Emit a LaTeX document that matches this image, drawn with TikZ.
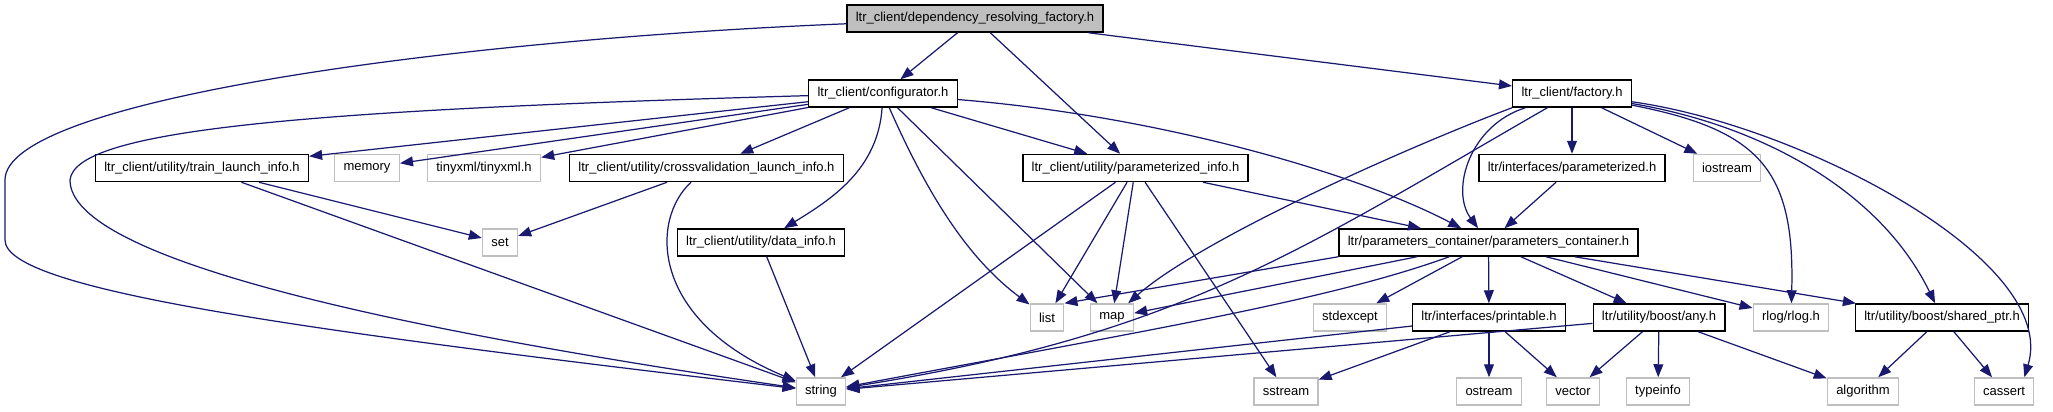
\documentclass[tikz,border=0pt]{standalone}
\usepackage{fontspec}
\setmainfont{Liberation Sans}
\usetikzlibrary{arrows.meta}
\definecolor{edgeblue}{HTML}{191970}
\definecolor{boxgray}{HTML}{BFBFBF}

\begin{document}
\begin{tikzpicture}[x=0.01cm,y=-0.01cm,font=\fontsize{3.7}{4.4}\selectfont,
  hfile/.style={draw=black,line width=0.4pt,fill=white,inner xsep=2.5pt,inner ysep=0pt,minimum height=7.7pt},
  sysfile/.style={hfile,draw=boxgray},
  topfile/.style={hfile,fill=boxgray},
  incl/.style={edgeblue,line width=0.35pt,-{Triangle[length=3.7pt,width=2.8pt]}}]
\useasboundingbox (0,0) rectangle (2053,411);
% files
\node[topfile] (drf) at (975,18.5) {ltr\_client/dependency\_resolving\_factory.h};
\node[hfile] (conf) at (883,93.5) {ltr\_client/configurator.h};
\node[hfile] (fact) at (1572,93.5) {ltr\_client/factory.h};
\node[hfile] (train) at (202,168) {ltr\_client/utility/train\_launch\_info.h};
\node[sysfile] (memory) at (367,168) {memory};
\node[sysfile] (tinyxml) at (484,168) {tinyxml/tinyxml.h};
\node[hfile] (cvinfo) at (706.5,168) {ltr\_client/utility/crossvalidation\_launch\_info.h};
\node[hfile] (pinfo) at (1135.5,168) {ltr\_client/utility/parameterized\_info.h};
\node[hfile] (param) at (1572,168) {ltr/interfaces/parameterized.h};
\node[sysfile] (iostream) at (1727,168) {iostream};
\node[sysfile] (set) at (500,242.5) {set};
\node[hfile] (dinfo) at (761,242.5) {ltr\_client/utility/data\_info.h};
\node[hfile] (pcont) at (1488.5,242.5) {ltr/parameters\_container/parameters\_container.h};
\node[sysfile] (list) at (1047,317.5) {list};
\node[sysfile] (map) at (1112,317.5) {map};
\node[sysfile] (stdexcept) at (1350,317.5) {stdexcept};
\node[hfile] (printable) at (1489,317.5) {ltr/interfaces/printable.h};
\node[hfile] (any) at (1659,317.5) {ltr/utility/boost/any.h};
\node[sysfile] (rlog) at (1791,317.5) {rlog/rlog.h};
\node[hfile] (sharedptr) at (1942,317.5) {ltr/utility/boost/shared\_ptr.h};
\node[sysfile] (string) at (821,391.5) {string};
\node[sysfile] (sstream) at (1286,391.5) {sstream};
\node[sysfile] (ostream) at (1489,391.5) {ostream};
\node[sysfile] (vector) at (1573,391.5) {vector};
\node[sysfile] (typeinfo) at (1658,391.5) {typeinfo};
\node[sysfile] (algorithm) at (1863,391.5) {algorithm};
\node[sysfile] (cassert) at (2004,391.5) {cassert};
% dependency_resolving_factory.h
\draw[incl] (drf) -- (conf);
\draw[incl] (drf) -- (pinfo);
\draw[incl] (drf) -- (fact);
\draw[incl] (drf) .. controls (450,40) and (5,100) .. (5,180) -- (5,240) .. controls (5,290) and (300,330) .. (string);
% configurator.h
\draw[incl] (conf) -- (train);
\draw[incl] (conf) -- (memory);
\draw[incl] (conf) -- (tinyxml);
\draw[incl] (conf) -- (cvinfo);
\draw[incl] (conf) .. controls (300,110) and (75,130) .. (70,180) .. controls (70,260) and (400,330) .. (string);
\draw[incl] (conf) .. controls (878,170) and (830,200) .. (dinfo);
\draw[incl] (conf) .. controls (930,200) and (970,260) .. (list);
\draw[incl] (conf) -- (map);
\draw[incl] (conf) -- (pinfo);
\draw[incl] (conf) .. controls (1150,115) and (1350,170) .. (pcont);
% factory.h
\draw[incl] (fact) -- (param);
\draw[incl] (fact) -- (iostream);
\draw[incl] (fact.-163) .. controls (1470,125) and (1450,190) .. (pcont);
\draw[incl] (fact.south west) .. controls (1400,150) and (1200,240) .. (map);
\draw[incl] (fact.-150) .. controls (1300,250) and (1180,335) .. (string);
\draw[incl] (fact) .. controls (1760,130) and (1795,170) .. (rlog);
\draw[incl] (fact) .. controls (1760,125) and (1880,190) .. (sharedptr);
\draw[incl] (fact) .. controls (1800,125) and (2060,260) .. (cassert.35);
% second rank
\draw[incl] (train) -- (set);
\draw[incl] (train) -- (string);
\draw[incl] (cvinfo) -- (set);
\draw[incl] (cvinfo) .. controls (650,220) and (650,320) .. (string);
\draw[incl] (pinfo) -- (list);
\draw[incl] (pinfo) -- (map);
\draw[incl] (pinfo) -- (string);
\draw[incl] (pinfo) -- (sstream);
\draw[incl] (pinfo) -- (pcont);
\draw[incl] (param) -- (pcont);
\draw[incl] (dinfo) -- (string);
% parameters_container.h
\draw[incl] (pcont.south west) -- (list.north east);
\draw[incl] (pcont) -- (map);
\draw[incl] (pcont) .. controls (1330,300) and (1150,330) .. (string);
\draw[incl] (pcont) -- (stdexcept);
\draw[incl] (pcont) -- (printable);
\draw[incl] (pcont) -- (any);
\draw[incl] (pcont) -- (rlog);
\draw[incl] (pcont) -- (sharedptr);
% bottom rank
\draw[incl] (printable) -- (string);
\draw[incl] (printable) -- (sstream);
\draw[incl] (printable) -- (ostream);
\draw[incl] (printable) -- (vector);
\draw[incl] (any) -- (string);
\draw[incl] (any) -- (vector);
\draw[incl] (any) -- (typeinfo);
\draw[incl] (any) -- (algorithm);
\draw[incl] (sharedptr) -- (algorithm);
\draw[incl] (sharedptr) -- (cassert);
\end{tikzpicture}
\end{document}
